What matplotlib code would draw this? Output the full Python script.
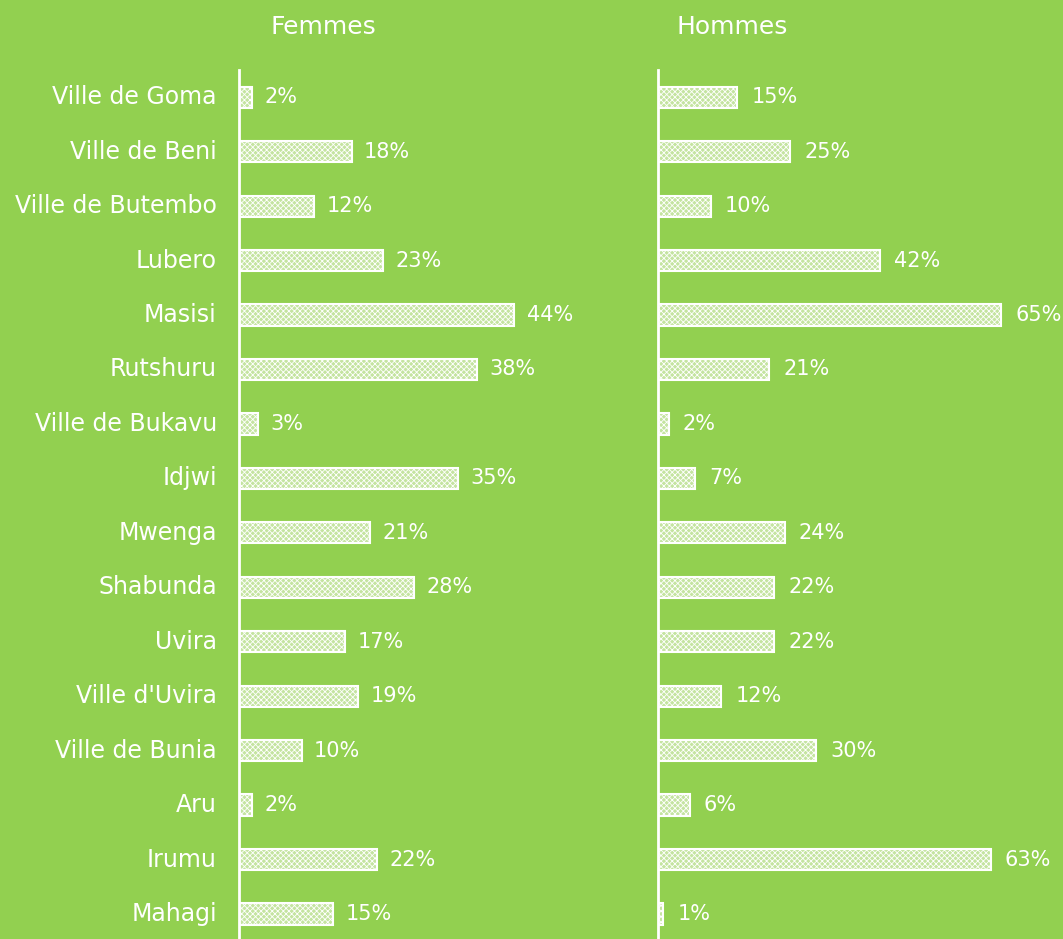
import numpy as np
import matplotlib.pyplot as plt

districts = ["Ville de Goma", "Ville de Beni", "Ville de Butembo", "Lubero", "Masisi",
             "Rutshuru", "Ville de Bukavu", "Idjwi", "Mwenga", "Shabunda", "Uvira",
             "Ville d'Uvira", "Ville de Bunia", "Aru", "Irumu", "Mahagi"]
femmes = [2, 18, 12, 23, 44, 38, 3, 35, 21, 28, 17, 19, 10, 2, 22, 15]
hommes = [15, 25, 10, 42, 65, 21, 2, 7, 24, 22, 22, 12, 30, 6, 63, 1]

bg = "#92D050"
W, H = 1063, 939
plt.rcParams["font.family"] = ["DejaVu Sans"]
plt.rcParams["hatch.linewidth"] = 0.6

fig = plt.figure(figsize=(W / 100, H / 100), dpi=100, facecolor=bg)
ax1 = fig.add_axes([239 / W, 0, 361 / W, 869 / H])
ax2 = fig.add_axes([658 / W, 0, 405 / W, 869 / H])

y = np.arange(len(districts))
for ax, vals, xmax in [(ax1, femmes, 361 / 6.25), (ax2, hommes, 405 / 5.28)]:
    ax.set_facecolor(bg)
    ax.barh(y, vals, height=0.39, color="#C4E4A0", edgecolor="white", linewidth=1.5, hatch="xxxxxx")
    for yi, v in zip(y, vals):
        ax.text(v + xmax * 0.035, yi, f"{v}%", va="center", ha="left", color="white", fontsize=15)
    ax.set_xlim(0, xmax)
    ax.set_ylim(15.46, -0.5)
    for s in ["top", "right", "bottom"]:
        ax.spines[s].set_visible(False)
    ax.spines["left"].set_color("white")
    ax.spines["left"].set_linewidth(2)
    ax.set_xticks([])
    ax.tick_params(axis="y", length=0, pad=16, labelsize=17, labelcolor="white")

ax1.set_yticks(y)
ax1.set_yticklabels(districts, va="center")
ax2.set_yticks([])

fig.text(323 / W, 1 - 27 / H, "Femmes", ha="center", va="center", color="white", fontsize=18)
fig.text(732 / W, 1 - 27 / H, "Hommes", ha="center", va="center", color="white", fontsize=18)

fig.savefig("out.png", dpi=100, facecolor=bg)
